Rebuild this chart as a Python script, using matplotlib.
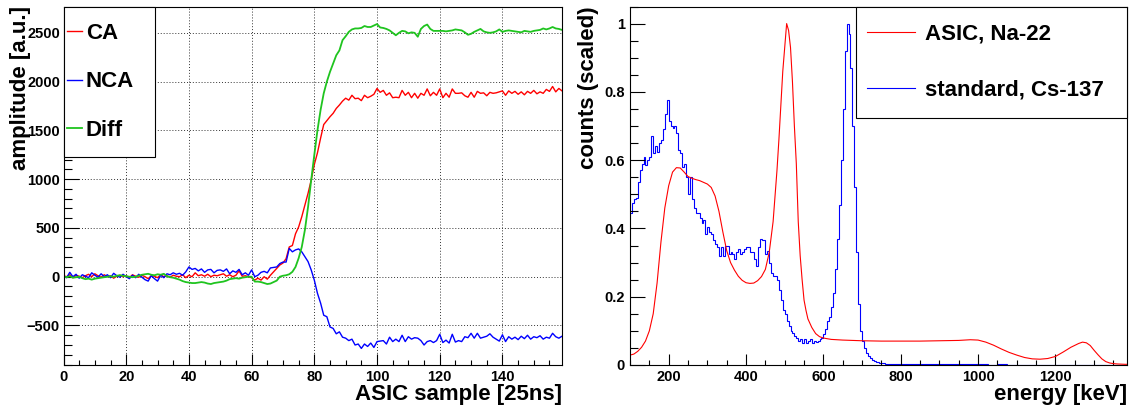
import numpy as np
import matplotlib.pyplot as plt
from matplotlib.ticker import MultipleLocator, FormatStrFormatter
from matplotlib.patches import Rectangle

plt.rcParams['font.family'] = ['Liberation Sans', 'DejaVu Sans']
plt.rcParams['font.weight'] = 'bold'
plt.rcParams['axes.labelweight'] = 'bold'

# --- left panel: ASIC samples (one value per 25 ns sample) ---
ca = [10, 0, 20, -10, 15, 5, -10, 10, 25, 0, 30, 10, -5, 20, 0, 10, -15, 5, 15, 0,
      10, -10, 20, 5, -5, 15, 0, -20, 10, 5, -10, 20, 0, 10, -5, 15, 5, 0, 20, -10,
      15, 0, 40, 10, 20, 5, 25, 0, 15, 10, 20, 30, 5, 20, 0, 15, 60, 5, 10, 0,
      -10, -35, -15, -35, 0, -25, 15, 50, 85, 120, 140, 185, 305, 320, 440, 510, 615, 735, 855, 990,
      1150, 1270, 1420, 1560, 1600, 1640, 1675, 1725, 1760, 1800, 1830, 1810, 1860, 1825, 1830, 1805, 1860, 1835, 1850, 1870,
      1930, 1890, 1910, 1860, 1885, 1835, 1840, 1835, 1910, 1860, 1890, 1835, 1880, 1830, 1880, 1860, 1925, 1855, 1890, 1860,
      1925, 1835, 1880, 1840, 1925, 1880, 1880, 1885, 1855, 1840, 1890, 1840, 1900, 1880, 1885, 1855, 1890, 1880, 1885, 1895,
      1905, 1860, 1905, 1880, 1900, 1870, 1895, 1865, 1900, 1880, 1910, 1875, 1895, 1880, 1920, 1900, 1950, 1895, 1930, 1905]

nca = [10, -10, 45, 0, 25, -15, 20, 5, -10, 40, 15, -5, 30, 0, 20, -10, 35, 10, -5, 25,
       0, -20, 15, -10, 25, -5, -30, -45, 10, -20, -45, 15, -10, 30, 20, 40, 25, 35, 15, 50,
       100, 75, 85, 60, 80, 45, 70, 75, 40, 65, 70, 55, 80, 30, 60, 45, 75, 20, 40, 15,
       70, 0, 15, 45, 55, 40, 90, 95, 100, 135, 150, 150, 290, 255, 275, 285, 255, 205, 155, 70,
       -35, -170, -270, -395, -410, -515, -530, -585, -565, -620, -630, -655, -640, -700, -690, -735, -690, -715, -680, -725,
       -665, -660, -655, -690, -620, -665, -640, -665, -600, -665, -615, -640, -625, -630, -655, -700, -665, -655, -675, -655,
       -590, -675, -650, -680, -590, -670, -655, -665, -615, -625, -580, -630, -580, -630, -620, -610, -585, -620, -640, -660,
       -595, -665, -615, -640, -620, -645, -610, -635, -600, -640, -615, -625, -605, -640, -620, -630, -580, -615, -630, -610]

diff = [0, -5, 5, -10, -5, 0, -15, -25, -20, -30, -20, -15, -10, -5, 0, 5, 0, 10, 15, 10,
        5, 0, -5, 0, 10, 20, 25, 30, 20, 15, 25, 20, 30, 5, -5, -10, -20, -30, -45, -55,
        -60, -65, -65, -60, -55, -60, -70, -75, -65, -60, -55, -50, -40, -25, -20, -15, -20, -10, -5, 0,
        0, -50, -50, -55, -65, -75, -70, -55, -40, 0, 10, 15, 25, 50, 100, 190, 305, 480, 715, 990,
        1250, 1500, 1710, 1880, 2000, 2100, 2185, 2270, 2320, 2425, 2465, 2510, 2535, 2545, 2545, 2550, 2570, 2560, 2560, 2575,
        2590, 2555, 2550, 2540, 2525, 2500, 2475, 2500, 2520, 2515, 2495, 2505, 2500, 2460, 2540, 2570, 2585, 2540, 2520, 2520,
        2520, 2520, 2515, 2520, 2525, 2535, 2530, 2525, 2505, 2480, 2490, 2510, 2525, 2540, 2515, 2505, 2500, 2505, 2515, 2535,
        2510, 2520, 2525, 2520, 2515, 2510, 2505, 2520, 2515, 2510, 2520, 2525, 2530, 2545, 2535, 2545, 2560, 2545, 2540, 2530]

# --- right panel: energy spectra ---
red_energy = [100, 110, 120, 130, 140, 150, 160, 170, 180, 190, 200, 210, 220, 230, 240, 250,
              260, 270, 280, 290, 300, 310, 320, 330, 340, 350, 360, 370, 380, 390, 400, 410,
              420, 430, 440, 450, 460, 470, 480, 485, 490, 495, 500, 505, 510, 515, 520, 525,
              530, 535, 540, 545, 550, 555, 560, 570, 580, 590, 600, 620, 650, 700, 750, 800,
              850, 900, 950, 980, 1000, 1020, 1040, 1060, 1080, 1100, 1120, 1140, 1160, 1180,
              1200, 1220, 1240, 1260, 1270, 1280, 1290, 1300, 1310, 1320, 1330, 1340, 1350,
              1360, 1380, 1390]
red_counts = [0.029, 0.032, 0.040, 0.052, 0.070, 0.100, 0.150, 0.240, 0.360, 0.460, 0.525, 0.565,
              0.578, 0.577, 0.565, 0.552, 0.547, 0.543, 0.540, 0.535, 0.530, 0.520, 0.495, 0.450,
              0.390, 0.335, 0.300, 0.278, 0.260, 0.248, 0.241, 0.239, 0.240, 0.247, 0.259, 0.280,
              0.330, 0.420, 0.570, 0.660, 0.760, 0.860, 0.930, 1.000, 0.980, 0.930, 0.830, 0.700,
              0.590, 0.420, 0.320, 0.250, 0.190, 0.160, 0.135, 0.110, 0.092, 0.083, 0.079, 0.075,
              0.073, 0.071, 0.070, 0.070, 0.070, 0.071, 0.072, 0.074, 0.073, 0.067, 0.058, 0.047,
              0.037, 0.029, 0.022, 0.018, 0.017, 0.019, 0.025, 0.038, 0.052, 0.063, 0.067, 0.065,
              0.057, 0.043, 0.030, 0.018, 0.010, 0.006, 0.004, 0.003, 0.002, 0.002]

# standard detector, 5 keV bins from 100 keV, then 25 keV bins from 800 keV
blue_counts = [0.445, 0.475, 0.485, 0.490, 0.535, 0.570, 0.590, 0.610, 0.585, 0.600,
               0.610, 0.670, 0.620, 0.640, 0.625, 0.650, 0.660, 0.690, 0.735, 0.775,
               0.715, 0.700, 0.695, 0.700, 0.680, 0.630, 0.620, 0.580, 0.590, 0.550,
               0.500, 0.550, 0.485, 0.460, 0.445, 0.445, 0.430, 0.415, 0.425, 0.385,
               0.405, 0.390, 0.385, 0.365, 0.355, 0.345, 0.320, 0.345, 0.320, 0.350,
               0.350, 0.325, 0.330, 0.325, 0.310, 0.330, 0.340, 0.325, 0.330, 0.340,
               0.345, 0.345, 0.330, 0.330, 0.310, 0.290, 0.345, 0.370, 0.365, 0.365,
               0.325, 0.335, 0.300, 0.270, 0.260, 0.260, 0.250, 0.220, 0.190, 0.160,
               0.150, 0.130, 0.115, 0.100, 0.095, 0.085, 0.080, 0.070, 0.075, 0.065,
               0.075, 0.065, 0.070, 0.075, 0.065, 0.070, 0.068, 0.070, 0.075, 0.080,
               0.090, 0.105, 0.130, 0.140, 0.170, 0.210, 0.280, 0.370, 0.470, 0.600,
               0.750, 0.920, 1.000, 0.970, 0.870, 0.700, 0.520, 0.330, 0.180, 0.100,
               0.070, 0.050, 0.035, 0.025, 0.020, 0.015, 0.012, 0.010, 0.008, 0.006,
               0.005, 0.005, 0.004, 0.004, 0.004, 0.003, 0.003, 0.003, 0.003, 0.003]
blue_tail = [0.003, 0.003, 0.002, 0.003, 0.002, 0.002, 0.002, 0.002, 0.002, 0.001, 0.002, 0.001,
             0.001, 0.001, 0.001, 0.001, 0.001, 0.001, 0.001, 0.001, 0.001, 0.001, 0.001, 0.001]

samples = np.arange(len(ca))
blue_edges = np.concatenate([100 + 5 * np.arange(len(blue_counts) + 1),
                             800 + 25 * np.arange(1, len(blue_tail) + 1)])
blue_all = np.concatenate([blue_counts, blue_tail])

W, H = 1135, 408
fig = plt.figure(figsize=(W / 100, H / 100), dpi=100)

def style_axes(ax, ylen):
    ax.tick_params(which='both', direction='in', top=False, right=False, labelsize=10.5, width=0.8)
    ax.tick_params(axis='x', which='major', length=7.7, pad=3.5)
    ax.tick_params(axis='x', which='minor', length=3.9)
    ax.tick_params(axis='y', which='major', length=ylen, pad=2.6)
    ax.tick_params(axis='y', which='minor', length=ylen / 2)
    for sp in ax.spines.values():
        sp.set_linewidth(0.8)

# left
ax1 = fig.add_axes([63.5 / W, 43 / H, 498.5 / W, 358.5 / H])
green = '#1fc41f'
ax1.plot(samples, ca, color='red', lw=1.0, label='CA')
ax1.plot(samples, nca, color='blue', lw=1.0, label='NCA')
ax1.plot(samples, diff, color=green, lw=1.3, label='Diff')
ax1.set_xlim(0, 159)
ax1.set_ylim(-905, 2770)
ax1.xaxis.set_major_locator(MultipleLocator(20))
ax1.xaxis.set_minor_locator(MultipleLocator(5))
ax1.yaxis.set_major_locator(MultipleLocator(500))
ax1.yaxis.set_minor_locator(MultipleLocator(100))
ax1.grid(True, which='major', color='0.2', linestyle=(0, (1, 2)), lw=0.7)
style_axes(ax1, 10.8)
ax1.set_xlabel('ASIC sample [25ns]', fontsize=16, loc='right')
ax1.xaxis.set_label_coords(1.0, -0.052)
ax1.set_ylabel('amplitude [a.u.]', fontsize=16, loc='top')
ax1.yaxis.set_label_coords(-0.066, 1.0)
ax1.add_patch(Rectangle((0, (365 - 157) / 358.5), 91 / 498.5, (157 - 6.5) / 358.5,
                        transform=ax1.transAxes, facecolor='white', edgecolor='black',
                        lw=0.8, zorder=4, clip_on=False))
ax1.legend(loc='center left', bbox_to_anchor=(3.5 / 498.5, (365 - 82) / 358.5),
           frameon=False, prop={'size': 16, 'weight': 'bold'}, handlelength=0.69,
           handletextpad=0.15, labelspacing=1.25, borderpad=0, borderaxespad=0).set_zorder(5)

# right
ax2 = fig.add_axes([630 / W, 43 / H, 497 / W, 358.5 / H])
ax2.plot(red_energy, red_counts, color='red', lw=0.8, label='ASIC, Na-22')
ax2.stairs(blue_all, blue_edges, baseline=None, color='blue', lw=0.8, label='standard, Cs-137')
ax2.set_xlim(100, 1385)
ax2.set_ylim(0, 1.05)
ax2.xaxis.set_major_locator(MultipleLocator(200))
ax2.xaxis.set_minor_locator(MultipleLocator(50))
ax2.yaxis.set_major_locator(MultipleLocator(0.2))
ax2.yaxis.set_minor_locator(MultipleLocator(0.05))
ax2.yaxis.set_major_formatter(FormatStrFormatter('%g'))
style_axes(ax2, 10.8)
ax2.tick_params(axis='y', which='major', pad=3.6)
ax2.set_xlabel('energy [keV]', fontsize=16, loc='right')
ax2.xaxis.set_label_coords(1.0, -0.052)
ax2.set_ylabel('counts (scaled)', fontsize=16, loc='top')
ax2.yaxis.set_label_coords(-0.062, 1.0)
ax2.add_patch(Rectangle(((856 - 630) / 497, (365 - 118) / 358.5), (1127 - 856) / 497,
                        (118 - 6.5) / 358.5, transform=ax2.transAxes, facecolor='white',
                        edgecolor='black', lw=0.8, zorder=4, clip_on=False))
ax2.legend(loc='center left', bbox_to_anchor=((867 - 630) / 497, (365 - 62) / 358.5),
           frameon=False, prop={'size': 16, 'weight': 'bold'}, handlelength=2.16,
           handletextpad=0.43, labelspacing=1.58, borderpad=0, borderaxespad=0).set_zorder(5)

# tick labels bold (set after a draw so every tick exists)
fig.canvas.draw()
for ax in (ax1, ax2):
    for lab in ax.get_xticklabels() + ax.get_yticklabels():
        lab.set_fontweight('bold')

fig.savefig('out.png', dpi=100)
